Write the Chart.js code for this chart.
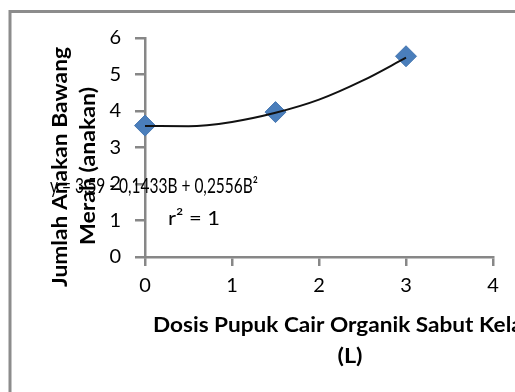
<!DOCTYPE html>
<html>
<head>
<meta charset="utf-8">
<script src="https://cdn.jsdelivr.net/npm/chart.js@4.4.1/dist/chart.umd.min.js"></script>
<style>
  html, body { margin: 0; padding: 0; background: #fff; }
  #wrap { width: 515px; height: 392px; position: relative; }
</style>
</head>
<body>
<div id="wrap"><canvas id="grafik" width="515" height="392"></canvas></div>
<script>
// data
const dosis = [0, 1.5, 3];
const jumlahAnakan = [3.6, 3.97, 5.5];

// garis tren polinomial (nilai dibaca dari kurva)
const trenX = [0, 0.5, 1, 1.5, 2, 2.5, 3];
const trenY = [3.59, 3.58, 3.70, 3.95, 4.31, 4.83, 5.46];

const judulY = ["Jumlah Anakan Bawang", "Merah (anakan)"];
const judulX = ["Dosis Pupuk Cair Organik Sabut Kelapa", "(L)"];
const persamaan = "y = 3,59 - 0,1433B + 0,2556B²";
const teksR2 = "r² = 1";

const abu = "#878787";
const biru = "#4a7ebb";

// tulis teks, diregangkan supaya lebarnya pas
function tulis(ctx, teks, x, y, lebar, font, sudut) {
  ctx.save();
  ctx.font = font;
  ctx.fillStyle = "#000";
  ctx.translate(x, y);
  if (sudut) ctx.rotate(sudut);
  const w = ctx.measureText(teks).width;
  ctx.scale(lebar / w, 1);
  ctx.textAlign = "center";
  ctx.textBaseline = "middle";
  ctx.fillText(teks, 0, 0);
  ctx.restore();
}

const bingkai = {
  id: "bingkai",
  beforeDraw(chart) {
    const ctx = chart.ctx;
    ctx.save();
    ctx.strokeStyle = "#8c8c8c";
    ctx.lineWidth = 3;
    ctx.beginPath();
    ctx.moveTo(10, 392);
    ctx.lineTo(10, 11.5);
    ctx.lineTo(515, 11.5);
    ctx.stroke();
    ctx.restore();
  },
  afterDraw(chart) {
    const ctx = chart.ctx;
    // persamaan & r2
    tulis(ctx, persamaan, 154, 186, 208, "21px Lato");
    tulis(ctx, teksR2, 194, 219, 52, "20px Lato");
    // judul sumbu y
    tulis(ctx, judulY[0], 61, 167, 240, "bold 20px Lato", -Math.PI / 2);
    tulis(ctx, judulY[1], 89, 166, 158, "bold 20px Lato", -Math.PI / 2);
    // judul sumbu x
    tulis(ctx, judulX[0], 350, 326, 394, "bold 20px Lato");
    tulis(ctx, judulX[1], 350, 357, 25, "bold 20px Lato");
  }
};

const grafik = document.getElementById("grafik");

new Chart(grafik, {
  type: "scatter",
  data: {
    datasets: [
      {
        label: "Tren",
        type: "line",
        data: trenX.map((x, i) => ({ x: x, y: trenY[i] })),
        borderColor: "#111",
        borderWidth: 2,
        pointRadius: 0,
        cubicInterpolationMode: "monotone",
        fill: false,
        clip: false,
        order: 0,
      },
      {
        label: "Jumlah Anakan",
        data: dosis.map((x, i) => ({ x: x, y: jumlahAnakan[i] })),
        pointStyle: "rectRot",
        pointRadius: 10.5,
        pointHoverRadius: 10.5,
        backgroundColor: biru,
        borderColor: "#4576b0",
        borderWidth: 1,
        clip: false,
        order: 1,
      },
    ],
  },
  options: {
    responsive: false,
    animation: false,
    events: [],
    layout: {
      padding: { top: 38, right: 22, left: 0, bottom: 0 },
    },
    scales: {
      x: {
        type: "linear",
        min: 0,
        max: 4,
        grid: {
          drawOnChartArea: false,
          drawTicks: true,
          tickLength: 9,
          color: abu,
          lineWidth: 2.5,
        },
        border: { display: true, color: abu, width: 2.5 },
        ticks: {
          stepSize: 1,
          color: "#000",
          padding: 8,
          font: { family: "Lato", size: 20 },
        },
        afterFit: function (scale) {
          scale.height = 135;
        },
      },
      y: {
        min: 0,
        max: 6,
        grid: {
          drawOnChartArea: false,
          drawTicks: true,
          tickLength: 10,
          color: abu,
          lineWidth: 2.5,
        },
        border: { display: true, color: abu, width: 2.5 },
        ticks: {
          stepSize: 1,
          color: "#000",
          padding: 14,
          font: { family: "Lato", size: 20 },
        },
        afterFit: function (scale) {
          scale.width = 145;
        },
      },
    },
    plugins: {
      legend: { display: false },
      tooltip: { enabled: false },
      title: { display: false },
    },
  },
  plugins: [bingkai],
});
</script>
</body>
</html>
